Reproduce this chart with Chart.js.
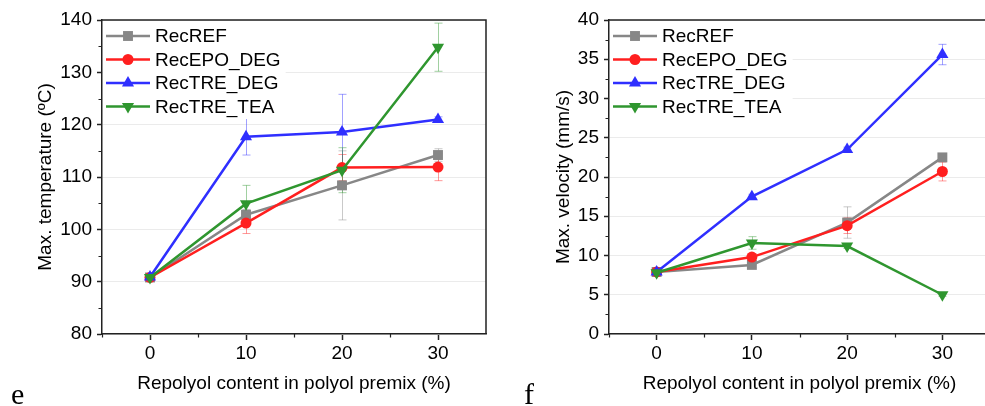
<!DOCTYPE html>
<html>
<head>
<meta charset="utf-8">
<script src="https://cdn.jsdelivr.net/npm/chart.js@4.4.1/dist/chart.umd.min.js"></script>
<style>
  html, body { margin: 0; padding: 0; background: #fff; }
  body { position: relative; width: 985px; height: 406px; overflow: hidden; }
  canvas { position: absolute; top: 0; }
</style>
</head>
<body>
<canvas id="tempChart" width="493" height="406" style="left:0px"></canvas>
<canvas id="velChart" width="502" height="406" style="left:495px"></canvas>
<script>
// repolyol content (%) shared by both panels
var content = [0, 10, 20, 30];
var seriesNames = ['RecREF', 'RecEPO_DEG', 'RecTRE_DEG', 'RecTRE_TEA'];

// panel e: max. temperature (ºC) and error bars
var tempREF = [90.8, 102.8, 108.4, 114.2];
var tempREFErr = [0.6, 1.0, 6.6, 1.2];
var tempEPO = [90.8, 101.2, 111.8, 111.9];
var tempEPOErr = [0.5, 2.0, 2.5, 2.6];
var tempTREDEG = [90.9, 117.7, 118.6, 121.0];
var tempTREDEGErr = [0.5, 3.5, 7.2, 0.5];
var tempTRETEA = [90.8, 104.9, 111.3, 134.8];
var tempTRETEAErr = [0.5, 3.5, 4.3, 4.6];

// panel f: max. velocity (mm/s) and error bars
var velREF = [7.9, 8.8, 14.2, 22.5];
var velREFErr = [0.3, 0.3, 2.0, 0.4];
var velEPO = [7.9, 9.8, 13.8, 20.7];
var velEPOErr = [0.3, 0.4, 1.0, 1.2];
var velTREDEG = [7.9, 17.5, 23.5, 35.6];
var velTREDEGErr = [0.3, 0.3, 0.3, 1.3];
var velTRETEA = [7.8, 11.6, 11.2, 5.0];
var velTRETEAErr = [0.3, 0.8, 0.3, 0.2];

// axis ticks
var xTicks = [0, 10, 20, 30];
var xMinorTicks = [-5, 5, 15, 25];
var tempTicks = [80, 90, 100, 110, 120, 130, 140];
var tempMinorTicks = [85, 95, 105, 115, 125, 135];
var velTicks = [0, 5, 10, 15, 20, 25, 30, 35, 40];
var velMinorTicks = [2.5, 7.5, 12.5, 17.5, 22.5, 27.5, 32.5, 37.5];

var colors = ['#878787', '#ff1f1f', '#2f2fff', '#2f962f'];
var errColors = ['rgba(135,135,135,0.45)', 'rgba(255,31,31,0.45)', 'rgba(47,47,255,0.45)', 'rgba(47,150,47,0.45)'];
var styles = [
    { pointStyle: 'rect', radius: 7, rotation: 0 },
    { pointStyle: 'circle', radius: 5.5, rotation: 0 },
    { pointStyle: 'triangle', radius: 7, rotation: 0 },
    { pointStyle: 'triangle', radius: 7, rotation: 180 }
];

Chart.defaults.font.family = '"Liberation Sans", Arial, sans-serif';
Chart.defaults.font.size = 19;
Chart.defaults.color = '#000';

function makeDatasets(values, errors) {
    return values.map(function(vals, i) {
        return {
            label: seriesNames[i],
            data: content.map(function(c, j) { return { x: c, y: vals[j] }; }),
            errors: errors[i],
            errorColor: errColors[i],
            borderColor: colors[i],
            backgroundColor: colors[i],
            borderWidth: 2.5,
            pointStyle: styles[i].pointStyle,
            pointRadius: styles[i].radius,
            pointRotation: styles[i].rotation,
            pointBorderWidth: 0,
            pointHoverRadius: styles[i].radius,
            order: 4 - i,
            tension: 0
        };
    });
}

// error bars, minor ticks, frame, in-plot legend and panel letter
var panelDecor = {
    id: 'panelDecor',
    beforeDatasetsDraw: function(chart) {
        var ctx = chart.ctx, xs = chart.scales.x, ys = chart.scales.y;
        ctx.save();
        ctx.lineWidth = 1;
        chart.data.datasets.forEach(function(ds) {
            ctx.strokeStyle = ds.errorColor;
            ds.data.forEach(function(p, j) {
                var e = ds.errors[j];
                var px = Math.round(xs.getPixelForValue(p.x)) + 0.5;
                var top = ys.getPixelForValue(p.y + e);
                var bot = ys.getPixelForValue(p.y - e);
                ctx.beginPath();
                ctx.moveTo(px, top); ctx.lineTo(px, bot);
                ctx.moveTo(px - 4, top); ctx.lineTo(px + 4, top);
                ctx.moveTo(px - 4, bot); ctx.lineTo(px + 4, bot);
                ctx.stroke();
            });
        });
        ctx.restore();
    },
    afterDraw: function(chart, args, opts) {
        var ctx = chart.ctx, area = chart.chartArea;
        var xs = chart.scales.x, ys = chart.scales.y;
        ctx.save();
        ctx.strokeStyle = '#222';
        ctx.lineWidth = 1.5;
        // top and right frame
        ctx.beginPath();
        ctx.moveTo(area.left, area.top);
        ctx.lineTo(area.right, area.top);
        ctx.lineTo(area.right, area.bottom);
        ctx.stroke();
        // minor ticks
        ctx.lineWidth = 1.2;
        ctx.beginPath();
        opts.xMinor.forEach(function(v) {
            var px = Math.round(xs.getPixelForValue(v)) + 0.5;
            ctx.moveTo(px, area.bottom); ctx.lineTo(px, area.bottom + 3.5);
        });
        opts.yMinor.forEach(function(v) {
            var py = Math.round(ys.getPixelForValue(v)) + 0.5;
            ctx.moveTo(area.left, py); ctx.lineTo(area.left - 3.5, py);
        });
        ctx.stroke();

        // legend box inside the plot
        var font = '19px "Liberation Sans", Arial, sans-serif';
        ctx.font = font;
        var lx0 = area.left + 4, lx1 = area.left + 48, tx = area.left + 53;
        var maxW = 0;
        chart.data.datasets.forEach(function(ds) { maxW = Math.max(maxW, ctx.measureText(ds.label).width); });
        ctx.fillStyle = '#fff';
        ctx.fillRect(area.left + 1, area.top + 1, tx + maxW + 4 - area.left, 98);
        chart.data.datasets.forEach(function(ds, i) {
            var rowY = area.top + 16 + i * 23.5;
            ctx.strokeStyle = colors[i];
            ctx.lineWidth = 2.5;
            ctx.beginPath();
            ctx.moveTo(lx0, rowY); ctx.lineTo(lx1, rowY);
            ctx.stroke();
            ctx.fillStyle = colors[i];
            Chart.helpers.drawPoint(ctx, {
                pointStyle: styles[i].pointStyle,
                radius: styles[i].radius,
                rotation: styles[i].rotation,
                borderWidth: 0
            }, (lx0 + lx1) / 2, rowY);
            ctx.fillStyle = '#000';
            ctx.textBaseline = 'middle';
            ctx.textAlign = 'left';
            ctx.fillText(ds.label, tx, rowY + 1);
        });

        // panel letter
        ctx.font = '30px "Liberation Serif", "Times New Roman", serif';
        ctx.fillStyle = '#000';
        ctx.textBaseline = 'alphabetic';
        ctx.textAlign = 'left';
        ctx.fillText(opts.tag, opts.tagX, 404);
        ctx.restore();
    }
};

function buildChart(canvasId, values, errors, yCfg, xMinor, yMinor, tag, tagX) {
    var ctx = document.getElementById(canvasId).getContext('2d');
    return new Chart(ctx, {
        type: 'line',
        data: { datasets: makeDatasets(values, errors) },
        options: {
            responsive: false,
            animation: false,
            events: [],
            layout: { padding: { top: 20, right: 0, left: 0, bottom: 0 } },
            scales: {
                x: {
                    type: 'linear',
                    min: -5,
                    max: 35,
                    afterBuildTicks: function(s) { s.ticks = xTicks.map(function(v) { return { value: v }; }); },
                    afterFit: function(s) { s.height = 72; },
                    ticks: { padding: 2, color: '#000' },
                    grid: { drawOnChartArea: false, tickLength: 6, tickColor: '#222', tickWidth: 1.5 },
                    border: { display: true, color: '#222', width: 1.5 },
                    title: {
                        display: true,
                        text: 'Repolyol content in polyol premix (%)',
                        color: '#000',
                        padding: { top: 0, bottom: 11 }
                    }
                },
                y: {
                    type: 'linear',
                    min: yCfg.min,
                    max: yCfg.max,
                    afterBuildTicks: function(s) { s.ticks = yCfg.ticks.map(function(v) { return { value: v }; }); },
                    afterFit: function(s) { s.width = yCfg.width; },
                    ticks: { padding: 5, color: '#000' },
                    grid: { color: '#ebebeb', lineWidth: 1, tickLength: 5, tickColor: '#222', tickWidth: 1.5 },
                    border: { display: true, color: '#222', width: 1.5 },
                    title: {
                        display: true,
                        text: yCfg.title,
                        color: '#000',
                        padding: { top: yCfg.titlePad, bottom: 0 }
                    }
                }
            },
            plugins: {
                legend: { display: false },
                tooltip: { enabled: false },
                panelDecor: { xMinor: xMinor, yMinor: yMinor, tag: tag, tagX: tagX }
            }
        },
        plugins: [panelDecor]
    });
}

buildChart('tempChart',
    [tempREF, tempEPO, tempTREDEG, tempTRETEA],
    [tempREFErr, tempEPOErr, tempTREDEGErr, tempTRETEAErr],
    { min: 80, max: 140, ticks: tempTicks, width: 102, title: 'Max. temperature (ºC)', titlePad: 34 },
    xMinorTicks, tempMinorTicks, 'e', 11);

buildChart('velChart',
    [velREF, velEPO, velTREDEG, velTRETEA],
    [velREFErr, velEPOErr, velTREDEGErr, velTRETEAErr],
    { min: 0, max: 40, ticks: velTicks, width: 114, title: 'Max. velocity (mm/s)', titlePad: 57 },
    xMinorTicks, velMinorTicks, 'f', 29);
</script>
</body>
</html>
